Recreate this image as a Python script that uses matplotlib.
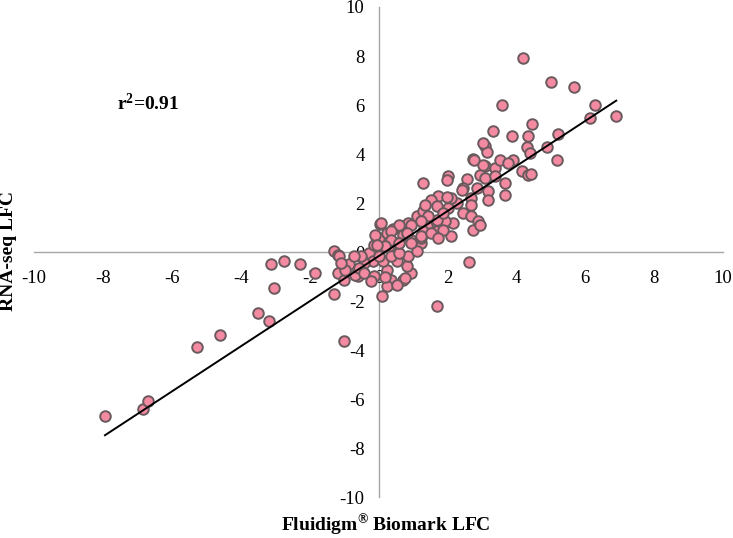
import numpy as np
from matplotlib import pyplot as plt

plt.rcParams["font.family"] = ["Liberation Serif", "DejaVu Serif"]
plt.rcParams["axes.unicode_minus"] = False
plt.rcParams["mathtext.fontset"] = "custom"
plt.rcParams["mathtext.rm"] = "Liberation Serif:bold"
plt.rcParams["mathtext.it"] = "Liberation Serif:bold"
plt.rcParams["mathtext.bf"] = "Liberation Serif:bold"
plt.rcParams["mathtext.default"] = "rm"

# Fluidigm Biomark LFC (x) vs RNA-seq LFC (y)
fluidigm_lfc = [
    -7.94, -6.84, -6.70, -5.28, -4.61, -3.51, -3.19, -3.04, -3.13, -2.75,
    -2.29, -1.83, -1.30, -1.01, -1.30, -1.19, -1.19, -1.01, -0.61,
    0.03, -1.16, -0.87, -0.67, 0.09, -0.29, -0.14, 0.00, 0.26, 0.41,
    0.64, 0.87, 1.13, 1.30, 0.72, 0.93, 1.22, 0.55, 0.29, 0.06,
    -0.17, -0.43, -0.58, -0.96, -0.43, -0.14, -0.23, 0.26, 0.35, 0.72,
    0.93, 0.84, 0.55, 0.87, 1.13, 1.22, 1.36, 1.51, 0.14, 0.35,
    0.58, 0.00, -0.52, -0.72, -1.10, 0.26, 0.55, 2.64, 1.71, 0.78, 0.20,
    3.10, 3.16, 2.75, 3.10, 3.39, 3.54, 3.91, 3.77, 4.17, 4.35,
    2.96, 3.10, 3.39, 2.03, 2.00, 2.58, 2.46, 2.87, 3.19, 3.68,
    3.68, 3.19, 2.67, 2.67, 2.29, 2.09, 1.74, 1.51, 1.36, 1.71,
    2.03, 2.46, 2.67, 2.90, 2.75, 2.96, 2.17, 1.94, 1.71, 1.45,
    1.42, 1.71, 2.09, 1.88, 1.30, 1.28, 2.43, 2.00, 1.22, 0.93,
    0.58, 0.35, 0.06, -0.09, 1.22, 1.51, 1.86, 1.74, 0.84, 0.35,
    0.58, 0.93, 0.20, -0.03,
    4.20, 5.01, 5.68, 3.57, 6.29, 6.90, 6.14, 4.46, 3.33, 3.86,
    4.35, 5.22, 3.04, 4.32, 4.41, 4.90, 5.19, 2.78, 3.04, 4.43,
]
rnaseq_lfc = [
    -6.69, -6.41, -6.08, -3.88, -3.39, -2.49, -2.82, -1.47, -0.49, -0.37,
    -0.49, -0.86, -1.71, -3.63, 0.04, -0.12, -0.86, -1.14, -0.98,
    1.14, -0.16, -0.49, -0.94, -1.80, -0.04, 0.29, 0.57, 0.78, 0.94,
    1.06, 1.18, 1.47, 1.67, 0.69, 0.49, 0.37, 0.37, 0.24, 0.16,
    -0.37, -0.45, -0.65, -0.73, -0.86, -0.98, -1.18, -0.73, -1.14, -1.14,
    -0.86, -0.57, -0.37, -0.16, 0.04, 0.57, 0.90, 1.18, -0.37, -0.16,
    -0.04, -0.16, -0.16, -0.16, -0.45, -1.39, -1.35, -0.41, -2.20, -1.06, -1.02,
    4.33, 4.08, 3.80, 3.51, 3.43, 3.76, 3.76, 3.63, 3.31, 3.14,
    3.14, 3.02, 3.10, 3.10, 2.94, 2.98, 2.61, 2.61, 2.49, 2.82,
    2.33, 2.12, 2.20, 1.92, 2.00, 2.20, 2.29, 2.12, 1.92, 1.88,
    1.80, 1.59, 1.47, 1.27, 0.90, 1.10, 1.18, 1.27, 1.31, 1.47,
    1.06, 0.86, 0.65, 1.59, 0.86, 2.82, 2.53, 2.24, 1.27, 1.10,
    1.10, 0.86, 1.18, 0.69, 0.65, 0.78, 0.90, 0.57, 0.78, 0.49,
    0.37, 0.37, 0.24, 0.29,
    7.92, 6.94, 6.73, 6.00, 6.00, 5.55, 5.47, 5.22, 4.94, 4.73,
    4.73, 4.82, 4.45, 4.29, 4.04, 4.29, 3.76, 3.76, 3.55, 3.18,
]
# trend line as drawn in the figure (fit over the full gene set)
trend_slope = 0.92
trend_intercept = -0.17
r_squared_label = "r$^{2}$=0.91"
axis_ticks = [-10, -8, -6, -4, -2, 0, 2, 4, 6, 8, 10]

x = np.array(fluidigm_lfc)
y = np.array(rnaseq_lfc)

fig = plt.figure(figsize=(7.33, 5.38), dpi=100)
ax = fig.add_axes([0.0464, 0.076, 0.940, 0.911])

ax.scatter(x, y, s=58, c="#f48aa2", edgecolors="#6a5a5e", linewidths=1.4,
           zorder=3)

# trend line over the data range
xx = np.array([x.min(), x.max()])
ax.plot(xx, trend_slope * xx + trend_intercept, color="black", lw=1.4,
        zorder=4)

ax.set_xlim(-10, 10)
ax.set_ylim(-10, 10)
ax.set_xticks(axis_ticks)
ax.set_yticks(axis_ticks)

for side in ["top", "right"]:
    ax.spines[side].set_visible(False)
for side in ["left", "bottom"]:
    ax.spines[side].set_position("zero")
    ax.spines[side].set_color("#a6a6a6")
    ax.spines[side].set_linewidth(1.0)
    ax.spines[side].set_zorder(1)

ax.tick_params(axis="x", length=0, pad=13, labelsize=13.5)
ax.tick_params(axis="y", length=0, pad=10, labelsize=13.5)

ax.text(-7.6, 6.05, r_squared_label, fontsize=14, fontweight="bold",
        ha="left", va="center")

fig.text(0.012, 0.533, "RNA-seq LFC", rotation=90, fontsize=14,
         fontweight="bold", ha="center", va="center")
fig.text(0.527, 0.014, "Fluidigm$^{®}$ Biomark LFC", fontsize=14,
         fontweight="bold", ha="center", va="baseline")

fig.savefig("out.png", dpi=100)
